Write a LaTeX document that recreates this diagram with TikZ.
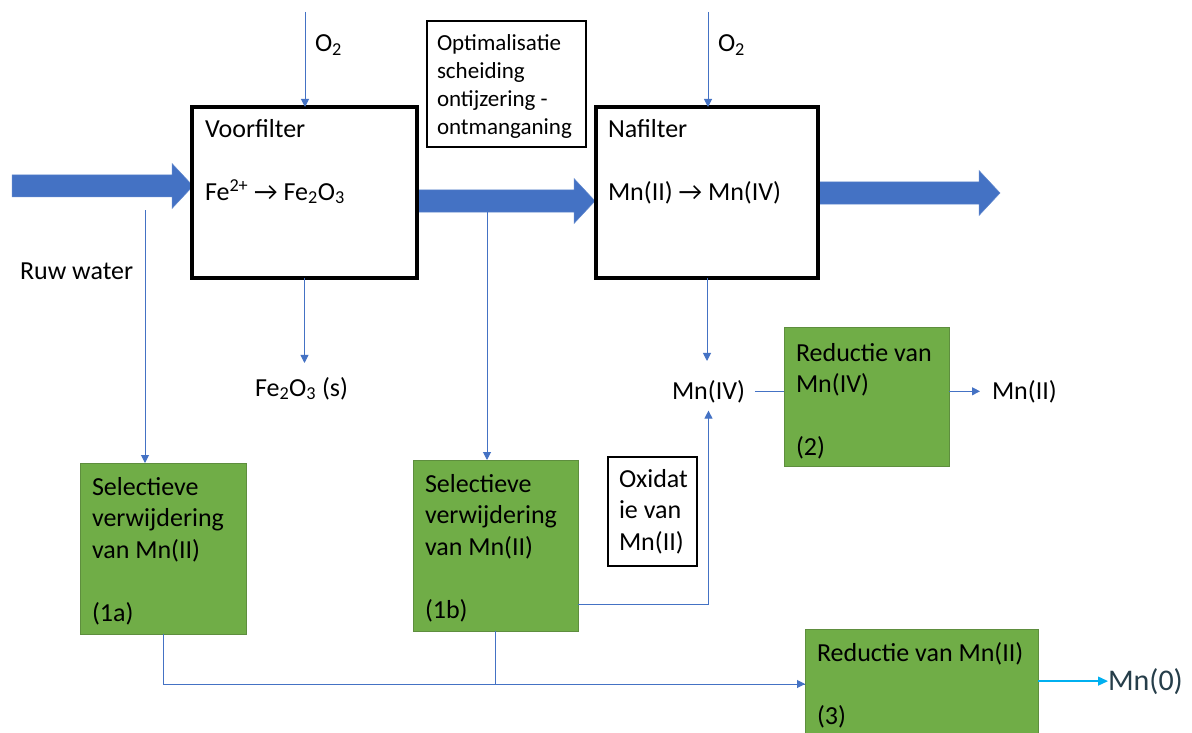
\documentclass[tikz,border=0pt]{standalone}
\usepackage{fontspec}
\setmainfont{Carlito}
\usetikzlibrary{arrows.meta,calc}
\definecolor{arrowblue}{HTML}{4472C4}
\definecolor{boxgreen}{HTML}{70AD47}
\definecolor{greenedge}{HTML}{5E8E3E}
\definecolor{cyanline}{HTML}{00B0F0}
\definecolor{mnzero}{HTML}{263E4A}
\newcommand{\fatarrow}[3]{%
  \fill[arrowblue,draw=arrowblue!85!white,line width=0.5pt]
    (#1,#3-11) -- (#2-21,#3-11) -- (#2-21,#3-22.5) -- (#2,#3)
    -- (#2-21,#3+22.5) -- (#2-21,#3+11) -- (#1,#3+11) -- cycle;}
\begin{document}
\begin{tikzpicture}[x=1pt,y=-1pt,
  every node/.style={inner sep=0pt,outer sep=0pt},
  filterbox/.style={draw=black,line width=3.5pt,anchor=north west},
  notebox/.style={draw=black,line width=1.3pt,fill=white,anchor=north west},
  greenbox/.style={draw=greenedge,line width=0.8pt,fill=boxgreen,anchor=north west},
  txt/.style={font=\fontsize{26}{31.5}\selectfont,align=left,anchor=north west},
  smalltxt/.style={font=\fontsize{23}{27.7}\selectfont,align=left,anchor=north west},
  lbl/.style={font=\fontsize{26}{31.5}\selectfont,anchor=base west},
  flow/.style={draw=arrowblue,line width=1pt},
  flowarrow/.style={flow,-{Triangle[length=8pt,width=8pt]}},
  cyanarrow/.style={draw=cyanline,line width=1.3pt,-{Triangle[length=10pt,width=9pt]}},
]
\useasboundingbox (0,0) rectangle (1192,733);
\fill[white] (0,0) rectangle (1192,733);

% fat process arrows
\fatarrow{12}{193}{186}
\fatarrow{416}{595}{201}
\fatarrow{818}{1000}{193}

% boxes
\node[filterbox,minimum width=225pt,minimum height=171pt] (vf) at (192,107) {};
\node[filterbox,minimum width=222pt,minimum height=171pt] (nf) at (596,107) {};
\node[notebox,minimum width=159pt,minimum height=126pt] (opt) at (427,21) {};
\node[notebox,minimum width=89pt,minimum height=109pt] (ox) at (608,457) {};
\node[greenbox,minimum width=166pt,minimum height=171pt] (a1) at (80,463) {};
\node[greenbox,minimum width=165pt,minimum height=171pt] (b1) at (413,460) {};
\node[greenbox,minimum width=165pt,minimum height=139pt] (r2) at (784,327) {};
\node[greenbox,minimum width=233pt,minimum height=110pt] (r3) at (805,629) {};

% box texts
\node[txt] (vft) at (205,119) {Voorfilter\\\mbox{}\\Fe\textsuperscript{2+} → Fe\textsubscript{2}O\textsubscript{3}};
\node[txt] (nft) at (608,119) {Nafilter\\\mbox{}\\Mn(II) → Mn(IV)};
\node[smalltxt] (optt) at (437,35) {Optimalisatie\\scheiding\\ontijzering -\\ontmanganing};
\node[txt] (oxt) at (619,469) {Oxidat\\ie van\\Mn(II)};
\node[txt] (a1t) at (92,477) {Selectieve\\verwijdering\\van Mn(II)\\\mbox{}\\(1a)};
\node[txt] (b1t) at (425,474) {Selectieve\\verwijdering\\van Mn(II)\\\mbox{}\\(1b)};
\node[txt] (r2t) at (796,343) {Reductie van\\Mn(IV)\\\mbox{}\\(2)};
\node[txt] (r3t) at (817,642) {Reductie van Mn(II)\\\mbox{}\\(3)};

% labels
\node[lbl] (rw) at (20,279) {Ruw water};
\node[lbl] (o2a) at (315,52) {O\textsubscript{2}};
\node[lbl] (o2b) at (718,52) {O\textsubscript{2}};
\node[lbl] (fe) at (255,396) {Fe\textsubscript{2}O\textsubscript{3} (s)};
\node[lbl] (mn4) at (672,399) {Mn(IV)};
\node[lbl] (mn2) at (992,399) {Mn(II)};
\node[lbl,font=\fontsize{30}{36}\selectfont,text=mnzero] (mn0) at (1108,690) {Mn(0)};

% free ends
\coordinate (o2atop) at (305,12);
\coordinate (o2btop) at (708,12);
\coordinate (rwtop) at (145,210);
\coordinate (midtap) at (487,212);

% connectors
\draw[flowarrow] (o2atop) -- (o2atop |- vf.north);
\draw[flowarrow] (o2btop) -- (o2btop |- nf.north);
\draw[flowarrow,shorten >=14pt] (vf.south) -- (vf.south |- fe.north);
\draw[flowarrow] (rwtop) -- (rwtop |- a1.north);
\draw[flowarrow] (midtap) -- (midtap |- b1.north);
\draw[flowarrow,shorten >=19pt] (nf.south) -- (nf.south |- mn4.north);
\draw[flow,shorten <=10pt] (mn4.east) -- (mn4.east -| r2.west);
\draw[flowarrow,shorten >=12pt] (mn2.west -| r2.east) -- (mn2.west);
\draw[flowarrow,shorten >=8pt] ($(b1.south east)+(0,-27)$) -| (mn4.south);
\draw[flow] (b1.south) |- (r3.west);
\draw[flowarrow] (a1.south) |- (r3.west);
\draw[cyanarrow] (r3.east |- mn0.west) -- (mn0.west);
\end{tikzpicture}
\end{document}
